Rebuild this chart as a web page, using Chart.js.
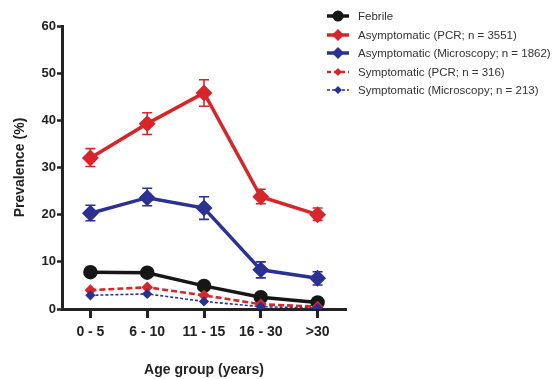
<!DOCTYPE html>
<html>
<head>
<meta charset="utf-8">
<script src="https://cdn.jsdelivr.net/npm/chart.js@4"></script>
<style>
  body { margin: 0; background: #fff; }
  #wrap { position: relative; width: 556px; height: 379px; }
  #legend { position: absolute; left: 326px; top: 7px; font-family: "Liberation Sans", Arial, sans-serif; font-size: 11.5px; color: #333; }
  #legend div { height: 18.5px; display: flex; align-items: center; white-space: nowrap; }
  #legend svg { margin-right: 8px; }
</style>
</head>
<body>
<div id="wrap">
  <canvas id="chart" width="556" height="379"></canvas>
  <div id="legend"></div>
</div>
<script>
// categories
const ageGroups = ['0 - 5', '6 - 10', '11 - 15', '16 - 30', '>30'];

// series values (%)
const febrile = [7.8, 7.7, 4.9, 2.5, 1.4];
const asymPcr = [32.0, 39.3, 45.8, 23.8, 20.0];
const asymPcrLow = [30.2, 37.0, 43.0, 22.3, 18.8];
const asymPcrHigh = [34.0, 41.6, 48.6, 25.4, 21.4];
const asymMicro = [20.3, 23.6, 21.4, 8.3, 6.5];
const asymMicroLow = [18.7, 21.9, 19.0, 6.6, 5.1];
const asymMicroHigh = [22.0, 25.6, 23.8, 10.0, 7.9];
const symPcr = [4.0, 4.6, 2.9, 1.0, 0.5];
const symMicro = [2.9, 3.2, 1.6, 0.5, 0.2];

const RED = '#d7262b';
const BLUE = '#2b3192';
const BLACK = '#161616';

// error bars drawn through the chart's own scales
const errorBars = {
    id: 'errorBars',
    beforeDatasetsDraw(chart) {
        const ctx = chart.ctx;
        const x = chart.scales.x, y = chart.scales.y;
        chart.data.datasets.forEach(ds => {
            if (!ds.errLow) return;
            ctx.save();
            ctx.strokeStyle = ds.borderColor;
            ctx.lineWidth = 1.6;
            ds.data.forEach((v, i) => {
                const px = x.getPixelForValue(i);
                const lo = y.getPixelForValue(ds.errLow[i]);
                const hi = y.getPixelForValue(ds.errHigh[i]);
                ctx.beginPath();
                ctx.moveTo(px, lo); ctx.lineTo(px, hi);
                ctx.moveTo(px - 5, lo); ctx.lineTo(px + 5, lo);
                ctx.moveTo(px - 5, hi); ctx.lineTo(px + 5, hi);
                ctx.stroke();
            });
            ctx.restore();
        });
    }
};

const font = { family: '"Liberation Sans", Arial, sans-serif', weight: 'bold' };

new Chart(document.getElementById('chart'), {
    type: 'line',
    data: {
        labels: ageGroups,
        datasets: [
            { label: 'Symptomatic (Microscopy; n = 213)', data: symMicro, borderColor: BLUE, backgroundColor: BLUE,
              borderWidth: 1.6, borderDash: [3, 2], pointStyle: 'rectRot', pointRadius: 4 },
            { label: 'Symptomatic (PCR; n = 316)', data: symPcr, borderColor: RED, backgroundColor: RED,
              borderWidth: 2.6, borderDash: [6, 3], pointStyle: 'rectRot', pointRadius: 4 },
            { label: 'Febrile', data: febrile, borderColor: BLACK, backgroundColor: BLACK,
              borderWidth: 3.5, pointStyle: 'circle', pointRadius: 5.5 },
            { label: 'Asymptomatic (Microscopy; n = 1862)', data: asymMicro, errLow: asymMicroLow, errHigh: asymMicroHigh,
              borderColor: BLUE, backgroundColor: BLUE, borderWidth: 3.5, pointStyle: 'rectRot', pointRadius: 6 },
            { label: 'Asymptomatic (PCR;  n = 3551)', data: asymPcr, errLow: asymPcrLow, errHigh: asymPcrHigh,
              borderColor: RED, backgroundColor: RED, borderWidth: 3.5, pointStyle: 'rectRot', pointRadius: 6 }
        ]
    },
    options: {
        responsive: false,
        animation: false,
        layout: { padding: { top: 26, right: 210, left: 12, bottom: 0 } },
        plugins: { legend: { display: false }, tooltip: { enabled: false } },
        elements: { line: { tension: 0 }, point: { borderWidth: 0 } },
        scales: {
            x: {
                offset: true,
                grid: { display: true, offset: false, drawOnChartArea: false, tickLength: 9, tickWidth: 3, tickColor: '#222' },
                border: { color: '#222', width: 3 },
                ticks: { color: '#222', font: { ...font, size: 14 }, padding: 6, maxRotation: 0 },
                title: { display: true, text: 'Age group (years)', color: '#222', font: { ...font, size: 14 }, padding: { top: 0, bottom: 0 } },
                afterFit: s => { s.height = 70; }
            },
            y: {
                min: 0, max: 60,
                ticks: { stepSize: 10, color: '#222', font: { ...font, size: 13 }, padding: 1 },
                grid: { display: true, drawOnChartArea: false, tickLength: 5, tickWidth: 2.5, tickColor: '#222' },
                border: { color: '#222', width: 3 },
                title: { display: true, text: 'Prevalence (%)', color: '#222', font: { ...font, size: 14 }, padding: { top: 0, bottom: 0 } },
                afterFit: s => { s.width = 50; }
            }
        }
    },
    plugins: [errorBars]
});

// legend (HTML text, order as in the figure)
const legendItems = [
    { text: 'Febrile', color: BLACK, dash: '', w: 3.5, marker: 'circle' },
    { text: 'Asymptomatic (PCR;  n = 3551)', color: RED, dash: '', w: 3.5, marker: 'diamond' },
    { text: 'Asymptomatic (Microscopy; n = 1862)', color: BLUE, dash: '', w: 3.5, marker: 'diamond' },
    { text: 'Symptomatic (PCR; n = 316)', color: RED, dash: '4,3', w: 2.5, marker: 'small' },
    { text: 'Symptomatic (Microscopy; n = 213)', color: BLUE, dash: '3,2', w: 1.6, marker: 'small' }
];
const legend = document.getElementById('legend');
legendItems.forEach(it => {
    const row = document.createElement('div');
    let mk;
    if (it.marker === 'circle') mk = `<circle cx="12" cy="7" r="5.5" fill="${it.color}"/>`;
    else if (it.marker === 'diamond') mk = `<polygon points="12,1 18,7 12,13 6,7" fill="${it.color}"/>`;
    else mk = `<polygon points="12,3 16,7 12,11 8,7" fill="${it.color}"/>`;
    row.innerHTML = `<svg width="24" height="14"><line x1="1" y1="7" x2="23" y2="7" stroke="${it.color}" stroke-width="${it.w}" stroke-dasharray="${it.dash}"/>${mk}</svg><span>${it.text}</span>`;
    legend.appendChild(row);
});
</script>
</body>
</html>
